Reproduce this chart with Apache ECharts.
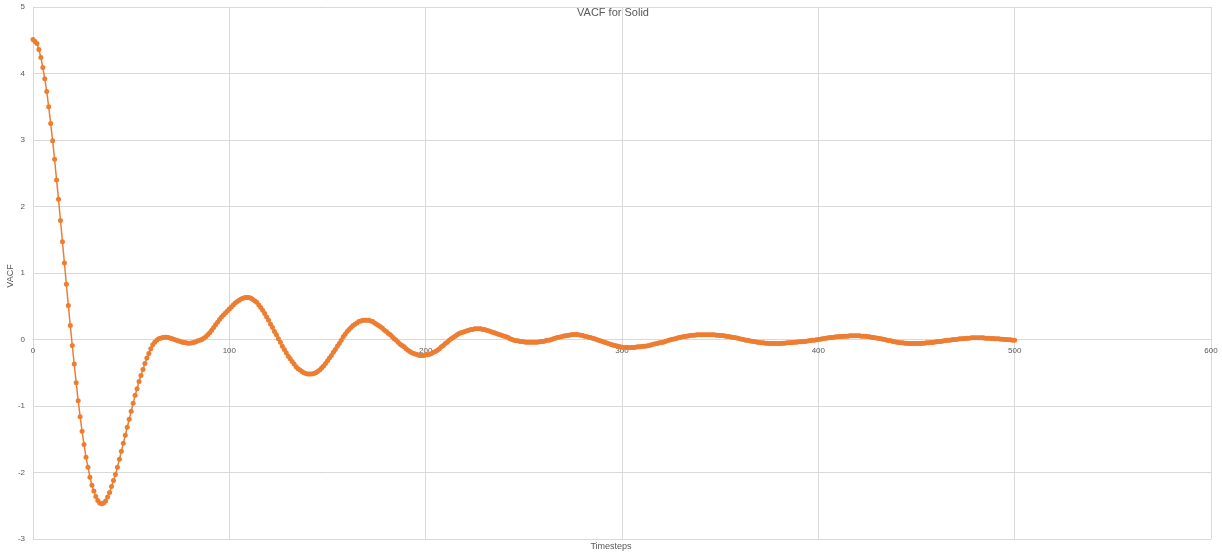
<!DOCTYPE html>
<html>
<head>
<meta charset="utf-8">
<script src="https://cdn.jsdelivr.net/npm/echarts@6/dist/echarts.min.js"></script>
<style>
html,body{margin:0;padding:0;background:#fff;}
#chart{width:1222px;height:555px;}
</style>
</head>
<body>
<div id="chart"></div>
<script>
const chartTitle = "VACF for Solid";
const xAxisName = "Timesteps";
const yAxisName = "VACF";
const xTicks = [0, 100, 200, 300, 400, 500, 600];
const yTicks = [-3, -2, -1, 0, 1, 2, 3, 4, 5];

// VACF value at each timestep 0..500
const vacf = [
 4.51, 4.48, 4.45, 4.36, 4.24, 4.09, 3.92, 3.73, 3.50, 3.25,
 2.99, 2.71, 2.40, 2.11, 1.79, 1.47, 1.15, 0.83, 0.51, 0.21,
 -0.09, -0.37, -0.65, -0.92, -1.16, -1.38, -1.58, -1.77, -1.92, -2.07,
 -2.19, -2.28, -2.36, -2.42, -2.46, -2.47, -2.46, -2.43, -2.37, -2.30,
 -2.21, -2.12, -2.03, -1.92, -1.80, -1.68, -1.56, -1.44, -1.32, -1.20,
 -1.08, -0.96, -0.84, -0.74, -0.63, -0.54, -0.45, -0.36, -0.28, -0.21,
 -0.14, -0.08, -0.04, -0.01, 0.01, 0.02, 0.03, 0.035, 0.035, 0.03,
 0.02, 0.01, 0.00, -0.01, -0.02, -0.03, -0.04, -0.045, -0.05, -0.055,
 -0.055, -0.05, -0.045, -0.035, -0.02, -0.01, 0.00, 0.02, 0.04, 0.07,
 0.10, 0.14, 0.18, 0.22, 0.26, 0.30, 0.34, 0.37, 0.40, 0.43,
 0.46, 0.49, 0.52, 0.55, 0.57, 0.59, 0.61, 0.62, 0.63, 0.63,
 0.63, 0.62, 0.60, 0.58, 0.56, 0.52, 0.48, 0.44, 0.39, 0.34,
 0.29, 0.23, 0.18, 0.12, 0.07, 0.01, -0.04, -0.10, -0.15, -0.20,
 -0.25, -0.29, -0.33, -0.37, -0.41, -0.44, -0.46, -0.48, -0.50, -0.51,
 -0.52, -0.52, -0.52, -0.51, -0.50, -0.48, -0.46, -0.43, -0.40, -0.36,
 -0.32, -0.28, -0.24, -0.19, -0.15, -0.10, -0.06, -0.01, 0.04, 0.08,
 0.12, 0.15, 0.18, 0.21, 0.23, 0.25, 0.27, 0.28, 0.29, 0.29,
 0.29, 0.29, 0.28, 0.27, 0.25, 0.23, 0.21, 0.19, 0.17, 0.14,
 0.12, 0.09, 0.07, 0.04, 0.01, -0.01, -0.04, -0.07, -0.09, -0.11,
 -0.14, -0.16, -0.18, -0.20, -0.21, -0.22, -0.23, -0.24, -0.24, -0.24,
 -0.23, -0.23, -0.22, -0.21, -0.19, -0.18, -0.16, -0.14, -0.11, -0.09,
 -0.06, -0.04, -0.01, 0.01, 0.03, 0.05, 0.07, 0.09, 0.10, 0.11,
 0.12, 0.13, 0.14, 0.15, 0.15, 0.16, 0.16, 0.16, 0.16, 0.15,
 0.15, 0.14, 0.13, 0.12, 0.11, 0.10, 0.09, 0.08, 0.07, 0.06,
 0.05, 0.04, 0.03, 0.01, 0.00, -0.01, -0.02, -0.02, -0.03, -0.03,
 -0.035, -0.04, -0.04, -0.04, -0.04, -0.04, -0.04, -0.04, -0.035, -0.03,
 -0.03, -0.02, -0.01, -0.01, 0.00, 0.01, 0.02, 0.03, 0.035, 0.04,
 0.05, 0.055, 0.06, 0.065, 0.07, 0.075, 0.075, 0.075, 0.07, 0.065,
 0.06, 0.05, 0.045, 0.035, 0.03, 0.02, 0.01, 0.00, -0.01, -0.02,
 -0.03, -0.04, -0.05, -0.06, -0.07, -0.08, -0.09, -0.095, -0.10, -0.11,
 -0.115, -0.12, -0.12, -0.12, -0.12, -0.12, -0.12, -0.115, -0.11, -0.11,
 -0.105, -0.10, -0.10, -0.095, -0.09, -0.08, -0.07, -0.065, -0.06, -0.05,
 -0.045, -0.04, -0.03, -0.02, -0.01, 0.00, 0.005, 0.01, 0.02, 0.03,
 0.035, 0.04, 0.045, 0.05, 0.055, 0.06, 0.065, 0.065, 0.07, 0.07,
 0.07, 0.07, 0.07, 0.07, 0.07, 0.07, 0.07, 0.07, 0.065, 0.065,
 0.06, 0.06, 0.055, 0.05, 0.045, 0.04, 0.035, 0.03, 0.025, 0.02,
 0.01, 0.005, 0.00, -0.01, -0.01, -0.02, -0.025, -0.03, -0.035, -0.04,
 -0.045, -0.05, -0.05, -0.055, -0.055, -0.06, -0.06, -0.06, -0.06, -0.06,
 -0.06, -0.06, -0.055, -0.055, -0.05, -0.05, -0.045, -0.045, -0.04, -0.04,
 -0.035, -0.035, -0.03, -0.03, -0.025, -0.02, -0.015, -0.01, -0.01, -0.005,
 0.00, 0.005, 0.01, 0.015, 0.02, 0.025, 0.03, 0.03, 0.035, 0.04,
 0.04, 0.045, 0.045, 0.05, 0.05, 0.05, 0.055, 0.055, 0.055, 0.055,
 0.055, 0.055, 0.05, 0.05, 0.05, 0.045, 0.04, 0.035, 0.03, 0.025,
 0.02, 0.015, 0.01, 0.005, 0.00, -0.01, -0.015, -0.02, -0.03, -0.035,
 -0.04, -0.045, -0.05, -0.05, -0.055, -0.055, -0.06, -0.06, -0.06, -0.06,
 -0.06, -0.06, -0.06, -0.055, -0.055, -0.05, -0.05, -0.045, -0.045, -0.04,
 -0.035, -0.03, -0.03, -0.025, -0.02, -0.015, -0.01, -0.01, -0.005, 0.00,
 0.00, 0.005, 0.01, 0.01, 0.015, 0.015, 0.02, 0.02, 0.025, 0.025,
 0.025, 0.025, 0.025, 0.025, 0.025, 0.02, 0.02, 0.02, 0.015, 0.015,
 0.01, 0.01, 0.01, 0.005, 0.005, 0.00, 0.00, -0.005, -0.005, -0.01,
 -0.01
];
const timesteps = vacf.map((v, i) => i);

const chart = echarts.init(document.getElementById('chart'), null, {renderer: 'canvas'});
const textColor = '#595959';
const gridColor = '#D9D9D9';
const font = '"Liberation Sans", Arial, sans-serif';
const gridTop = 7, gridBottom = 16;
const plotHeight = 555 - gridTop - gridBottom;
const yMin = yTicks[0], yMax = yTicks[yTicks.length - 1];
// shift the x axis (line + labels) up to the y = 0 level, as in the reference
const zeroOffset = -plotHeight * (0 - yMin) / (yMax - yMin);

chart.setOption({
  animation: false,
  backgroundColor: '#ffffff',
  textStyle: {fontFamily: font},
  title: {
    text: chartTitle,
    left: 608, top: 2,
    textAlign: 'center',
    textStyle: {fontSize: 11, fontWeight: 'normal', color: textColor, fontFamily: font}
  },
  grid: {left: 33, right: 11, top: gridTop, bottom: gridBottom, containLabel: false, outerBoundsMode: 'none'},
  xAxis: {
    type: 'value',
    min: xTicks[0], max: xTicks[xTicks.length - 1], interval: 100,
    position: 'bottom',
    offset: zeroOffset,
    axisLine: {show: true, onZero: false, lineStyle: {color: gridColor, width: 1}},
    axisTick: {show: false},
    axisLabel: {fontSize: 8, color: textColor, margin: 7, fontFamily: font},
    splitLine: {show: true, lineStyle: {color: gridColor, width: 1}}
  },
  yAxis: {
    type: 'value',
    min: yMin, max: yMax, interval: 1,
    axisLine: {show: true, onZero: false, lineStyle: {color: gridColor, width: 1}},
    axisTick: {show: false},
    axisLabel: {fontSize: 8, color: textColor, margin: 8, fontFamily: font},
    splitLine: {show: true, lineStyle: {color: gridColor, width: 1}}
  },
  graphic: [{
    type: 'text',
    left: 'center',
    top: 542,
    style: {text: xAxisName, fontSize: 9, fill: textColor, font: '9px "Liberation Sans", Arial, sans-serif'}
  }, {
    type: 'text',
    x: 11, y: 276,
    rotation: Math.PI / 2,
    style: {text: yAxisName, fill: textColor, font: '9px "Liberation Sans", Arial, sans-serif',
            textAlign: 'center', textVerticalAlign: 'middle'}
  }],
  series: [{
    type: 'line',
    data: timesteps.map((t, i) => [t, vacf[i]]),
    symbol: 'circle',
    symbolSize: 5,
    showAllSymbol: true,
    lineStyle: {color: '#ED7D31', width: 1.5},
    itemStyle: {color: '#ED7D31'},
    z: 3
  }]
});
</script>
</body>
</html>
